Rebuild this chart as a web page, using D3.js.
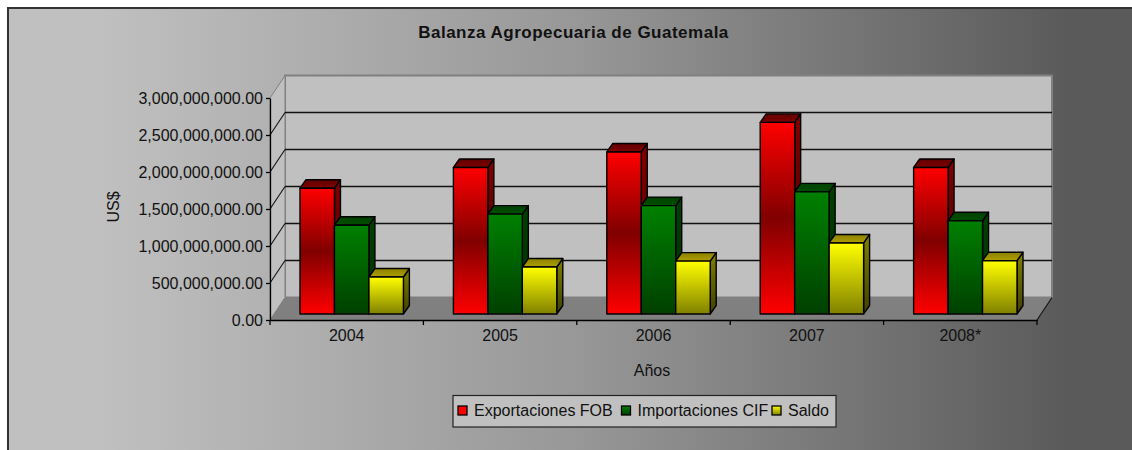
<!DOCTYPE html>
<html>
<head>
<meta charset="utf-8">
<script src="https://cdn.jsdelivr.net/npm/d3@7"></script>
<style>
  html, body { margin: 0; padding: 0; background: #fff; }
  svg { display: block; }
  text { font-family: "Liberation Sans", Arial, sans-serif; fill: #111; }
  .axis .domain, .axis line { stroke: #000; stroke-width: 1.3; }
  .axis text { font-size: 16px; }
</style>
</head>
<body>
<svg class="chart" width="1132" height="450"></svg>
<script>
const years = ["2004", "2005", "2006", "2007", "2008*"];
const exportaciones = [1.70e9, 1.98e9, 2.19e9, 2.59e9, 1.98e9];
const importaciones = [1.20e9, 1.35e9, 1.465e9, 1.65e9, 1.26e9];
const saldo = [0.50e9, 0.635e9, 0.715e9, 0.96e9, 0.72e9];
const yTicks = [0, 0.5e9, 1e9, 1.5e9, 2e9, 2.5e9, 3e9];

const series = [
    {name: "Exportaciones FOB", values: exportaciones, id: "red",
     stops: ["#ff0000", "#800000", "#ff0000"], side: ["#800000", "#400000"], top: ["#600000", "#800000"]},
    {name: "Importaciones CIF", values: importaciones, id: "green",
     stops: ["#008000", "#006000", "#004000"], side: ["#004000", "#003000"], top: ["#004000", "#005000"]},
    {name: "Saldo", values: saldo, id: "yellow",
     stops: ["#ffff00", "#c0c000", "#808000"], side: ["#808000", "#404000"], top: ["#8a8000", "#b0a000"]}
];

const svg = d3.select("svg.chart");
const defs = svg.append("defs");

function gradient(id, colors, offsets) {
    const g = defs.append("linearGradient").attr("id", id)
        .attr("x1", 0).attr("y1", 0)
        .attr("x2", offsets ? 1 : 0).attr("y2", offsets ? 0 : 1);
    colors.forEach((c, i) => {
        g.append("stop")
            .attr("offset", offsets ? offsets[i] : i / (colors.length - 1))
            .attr("stop-color", c);
    });
}

gradient("bg", ["#c0c0c0", "#989898", "#5a5a5a"], [0.08, 0.5, 0.94]);
series.forEach(s => {
    gradient(s.id + "-front", s.stops);
    gradient(s.id + "-side", s.side);
    gradient(s.id + "-top", s.top);
    gradient(s.id + "-key", [s.stops[0], s.stops[s.stops.length - 1]]);
});

// frame
svg.append("rect")
    .attr("x", 8).attr("y", 8).attr("width", 1130).attr("height", 450)
    .attr("fill", "url(#bg)").attr("stroke", "#333").attr("stroke-width", 2);

svg.append("text").attr("x", 573.5).attr("y", 38).attr("text-anchor", "middle")
    .attr("font-weight", "bold").style("font-size", "17px").style("letter-spacing", "0.5px")
    .text("Balanza Agropecuaria de Guatemala");

// front plane of the plot and the 3D offsets
const x0 = 270, x1 = 1037, yBase = 320, yTop = 98;
const wallDx = 15, wallDy = -22.5;
const barDx = 6, barDy = -8.5, barBase = -6;

const y = d3.scaleLinear().domain([0, 3e9]).range([yBase, yTop]);
const x = d3.scaleBand().domain(years).range([x0, x1]);
const xBar = d3.scaleBand().domain(series.map(s => s.name))
    .range([30, x.bandwidth() - 20]);

// walls
const plot = svg.append("g");
const pts = a => a.map(p => p.join(",")).join(" ");

plot.append("polygon").attr("fill", "#c0c0c0").attr("stroke", "#808080").attr("stroke-width", 2)
    .attr("points", pts([[x0 + wallDx, y(3e9) + wallDy], [x1 + wallDx, y(3e9) + wallDy],
                         [x1 + wallDx, yBase + wallDy], [x0 + wallDx, yBase + wallDy]]));
plot.append("polygon").attr("fill", "#c0c0c0").attr("stroke", "#808080").attr("stroke-width", 1)
    .attr("points", pts([[x0, y(3e9)], [x0 + wallDx, y(3e9) + wallDy],
                         [x0 + wallDx, yBase + wallDy], [x0, yBase]]));
plot.append("polygon").attr("fill", "#808080")
    .attr("points", pts([[x0, yBase], [x0 + wallDx, yBase + wallDy],
                         [x1 + wallDx, yBase + wallDy], [x1, yBase]]));

// gridlines
const gridTicks = yTicks.filter(t => t > 0 && t < 3e9);
plot.selectAll("line.grid").data(gridTicks).enter().append("line")
    .attr("class", "grid")
    .attr("x1", x0 + wallDx).attr("x2", x1 + wallDx)
    .attr("y1", d => y(d) + wallDy).attr("y2", d => y(d) + wallDy)
    .attr("stroke", "#111").attr("stroke-width", 1.3);
plot.selectAll("line.wall").data(gridTicks).enter().append("line")
    .attr("class", "wall")
    .attr("x1", x0).attr("x2", x0 + wallDx)
    .attr("y1", d => y(d)).attr("y2", d => y(d) + wallDy)
    .attr("stroke", "#111").attr("stroke-width", 1.1);
plot.append("line").attr("x1", x1).attr("x2", x1 + wallDx)
    .attr("y1", yBase).attr("y2", yBase + wallDy)
    .attr("stroke", "#111").attr("stroke-width", 1.1);

// bars, left to right so that later ones cover the side of earlier ones
years.forEach((year, i) => {
    series.forEach(s => {
        const left = x(year) + xBar(s.name);
        const right = left + xBar.bandwidth();
        const top = y(s.values[i]) + barBase;
        const bottom = yBase + barBase;
        const g = plot.append("g").attr("stroke", "#000").attr("stroke-width", 1.4)
            .attr("stroke-linejoin", "round");
        g.append("polygon").attr("fill", "url(#" + s.id + "-side)")
            .attr("points", pts([[right, top], [right + barDx, top + barDy],
                                 [right + barDx, bottom + barDy], [right, bottom]]));
        g.append("polygon").attr("fill", "url(#" + s.id + "-top)")
            .attr("points", pts([[left, top], [left + barDx, top + barDy],
                                 [right + barDx, top + barDy], [right, top]]));
        g.append("rect").attr("fill", "url(#" + s.id + "-front)")
            .attr("x", left).attr("y", top)
            .attr("width", right - left).attr("height", bottom - top);
    });
});

// axes
svg.append("g").attr("class", "axis")
    .attr("transform", "translate(" + x0 + ",0)")
    .call(d3.axisLeft(y).tickValues(yTicks).tickSize(4).tickSizeOuter(0).tickPadding(3)
        .tickFormat(d3.format(",.2f")));
const xAxis = svg.append("g").attr("class", "axis")
    .attr("transform", "translate(0," + yBase + ")")
    .call(d3.axisBottom(x).tickSize(0).tickPadding(10));
xAxis.selectAll("line.sep").data(d3.range(years.length + 1)).enter().append("line")
    .attr("class", "sep")
    .attr("x1", d => x0 + d * x.step()).attr("x2", d => x0 + d * x.step())
    .attr("y1", 0).attr("y2", 5);

svg.append("text").attr("transform", "translate(119,207) rotate(-90)")
    .attr("text-anchor", "middle").style("font-size", "16px").text("US$");
svg.append("text").attr("x", 652).attr("y", 376)
    .attr("text-anchor", "middle").style("font-size", "16px").text("Años");

// legend
const legend = svg.append("g");
legend.append("rect").attr("x", 453).attr("y", 395.5).attr("width", 383).attr("height", 31.5)
    .attr("fill", "#c0c0c0").attr("stroke", "#222").attr("stroke-width", 1.2);
const keyX = [458, 621.5, 772];
series.forEach((s, i) => {
    legend.append("rect").attr("x", keyX[i]).attr("y", 406).attr("width", 9).attr("height", 9)
        .attr("fill", "url(#" + s.id + "-key)").attr("stroke", "#000").attr("stroke-width", 1.3);
    legend.append("text").attr("x", keyX[i] + 16).attr("y", 415.5)
        .style("font-size", "16px").text(s.name);
});
</script>
</body>
</html>
